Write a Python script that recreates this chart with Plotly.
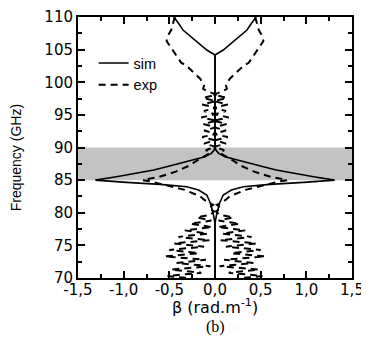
import plotly.graph_objects as go

# ---------------- data ----------------
# simulated dispersion (positive branch, mirrored for negative branch)
sim_freq = [70.0, 78.4, 79.9, 81.45, 82.72, 83.49, 83.99, 84.35, 84.66, 85.0,
            85.52, 86.04, 86.55, 87.06, 87.57, 88.08, 88.59, 89.1, 89.6, 90.2,
            104.18, 104.94, 105.97, 106.99, 108.0, 109.03, 110.0]
sim_beta = [0.0, 0.0, 0.02, 0.05, 0.09, 0.18, 0.31, 0.60, 0.97, 1.31,
            1.08, 0.89, 0.67, 0.53, 0.38, 0.24, 0.11, 0.04, 0.01, 0.0,
            0.0, 0.09, 0.18, 0.27, 0.35, 0.40, 0.45]

# measured dispersion (positive branch, mirrored for negative branch)
exp_freq = [110.0, 109.5, 109.0, 108.5, 108.0, 107.5, 107.0, 106.3, 105.7, 105.0,
            104.3, 103.7, 103.0, 102.5, 102.0, 101.5, 101.0, 100.5, 100.0, 99.5,
            99.0, 98.6, 98.1, 97.6, 97.1, 96.6, 96.1, 95.6, 95.1, 94.6,
            94.1, 93.6, 93.1, 92.6, 92.1, 91.6, 91.1, 90.6, 90.1, 89.6,
            89.2, 88.7, 88.3, 87.8, 87.3, 86.8, 86.3, 85.9, 85.5, 85.2,
            85.0, 84.8, 84.5, 84.2, 83.9, 83.5, 83.0, 82.5, 82.0, 81.6,
            81.2, 80.7, 80.2, 79.7, 79.3, 78.8, 78.3, 77.8, 77.3, 76.8,
            76.3, 75.8, 75.3, 74.8, 74.3, 73.8, 73.3, 72.8, 72.3, 71.8,
            71.3, 70.8, 70.3, 70.0]
exp_beta = [0.44, 0.45, 0.46, 0.47, 0.48, 0.50, 0.52, 0.53, 0.50, 0.47,
            0.44, 0.41, 0.37, 0.31, 0.27, 0.23, 0.20, 0.16, 0.14, 0.12,
            0.13, 0.08, -0.02, 0.13, -0.01, 0.14, -0.02, 0.12, 0.00, 0.15,
            -0.02, 0.13, -0.01, 0.12, -0.02, 0.14, 0.00, 0.12, -0.01, 0.10,
            0.05, 0.12, 0.16, 0.22, 0.27, 0.35, 0.43, 0.52, 0.61, 0.72,
            0.79, 0.70, 0.62, 0.55, 0.45, 0.33, 0.24, 0.16, 0.12, 0.07,
            0.02, 0.07, 0.01, 0.05, 0.20, 0.04, 0.27, 0.03, 0.33, 0.08,
            0.40, 0.06, 0.45, 0.12, 0.50, 0.18, 0.55, 0.10, 0.42, 0.05,
            0.48, 0.15, 0.52, 0.30]

band = [85, 90]  # shaded stop band (GHz)

x_ticks = [-1.5, -1.0, -0.5, 0.0, 0.5, 1.0, 1.5]
x_ticktext = ["-1,5", "-1,0", "-0,5", "0,0", "0,5", "1,0", "1,5"]
y_ticks = [70, 75, 80, 85, 90, 95, 100, 105, 110]

# ---------------- figure ----------------
def mirrored(beta, freq):
    xs = list(beta) + [None] + [-b for b in beta]
    ys = list(freq) + [None] + list(freq)
    return xs, ys

fig = go.Figure()

sx, sy = mirrored(sim_beta, sim_freq)
ex, ey = mirrored(exp_beta, exp_freq)

fig.add_trace(go.Scatter(x=sx, y=sy, mode="lines", name="sim",
                         line=dict(color="black", width=1.6)))
fig.add_trace(go.Scatter(x=ex, y=ey, mode="lines", name="exp",
                         line=dict(color="black", width=2, dash="7px,5px")))

fig.add_shape(type="rect", xref="paper", yref="y", x0=0, x1=1,
              y0=band[0], y1=band[1], fillcolor="#c3c3c3",
              line=dict(width=0), layer="below")

axis_common = dict(showline=True, linecolor="black", linewidth=2,
                   mirror="ticks", ticks="inside", tickcolor="black",
                   tickwidth=2, ticklen=7, showgrid=False, zeroline=False,
                   automargin=False,
                   tickfont=dict(family="DejaVu Sans", size=15, color="black"))

# page body has an 8px default margin, so figure is sized to fit the window
fig.update_layout(
    width=361, height=341,
    margin=dict(l=70, r=17, t=9, b=71),
    paper_bgcolor="white", plot_bgcolor="white",
    showlegend=True,
    legend=dict(x=0.057, y=0.885, xanchor="left", yanchor="top",
                bgcolor="rgba(0,0,0,0)",
                font=dict(family="Liberation Sans", size=14.5, color="black"),
                tracegroupgap=0),
    xaxis=dict(range=[-1.5, 1.5], tickvals=x_ticks, ticktext=x_ticktext,
               ticklabelstandoff=-3,
               minor=dict(dtick=0.25, ticks="inside", ticklen=4,
                          tickwidth=2, tickcolor="black"),
               **axis_common),
    yaxis=dict(range=[70, 110], tickvals=y_ticks,
               minor=dict(dtick=2.5, ticks="inside", ticklen=4,
                          tickwidth=2, tickcolor="black"),
               **axis_common),
)

fig.add_annotation(text="β (rad.m<sup>-1</sup>)", xref="paper", yref="paper",
                   x=0.5, y=-0.11, xanchor="center", yanchor="middle",
                   showarrow=False,
                   font=dict(family="DejaVu Sans", size=16, color="black"))
fig.add_annotation(text="Frequency (GHz)", xref="paper", yref="paper",
                   x=-0.225, y=0.46, xanchor="center", yanchor="middle",
                   textangle=-90, showarrow=False,
                   font=dict(family="Liberation Sans Narrow, Liberation Sans",
                             size=14, color="black"))
fig.add_annotation(text="(b)", xref="paper", yref="paper", x=0.5, y=-0.188,
                   xanchor="center", yanchor="middle", showarrow=False,
                   font=dict(family="Liberation Serif", size=16, color="black"))

fig.write_html("out.html")
